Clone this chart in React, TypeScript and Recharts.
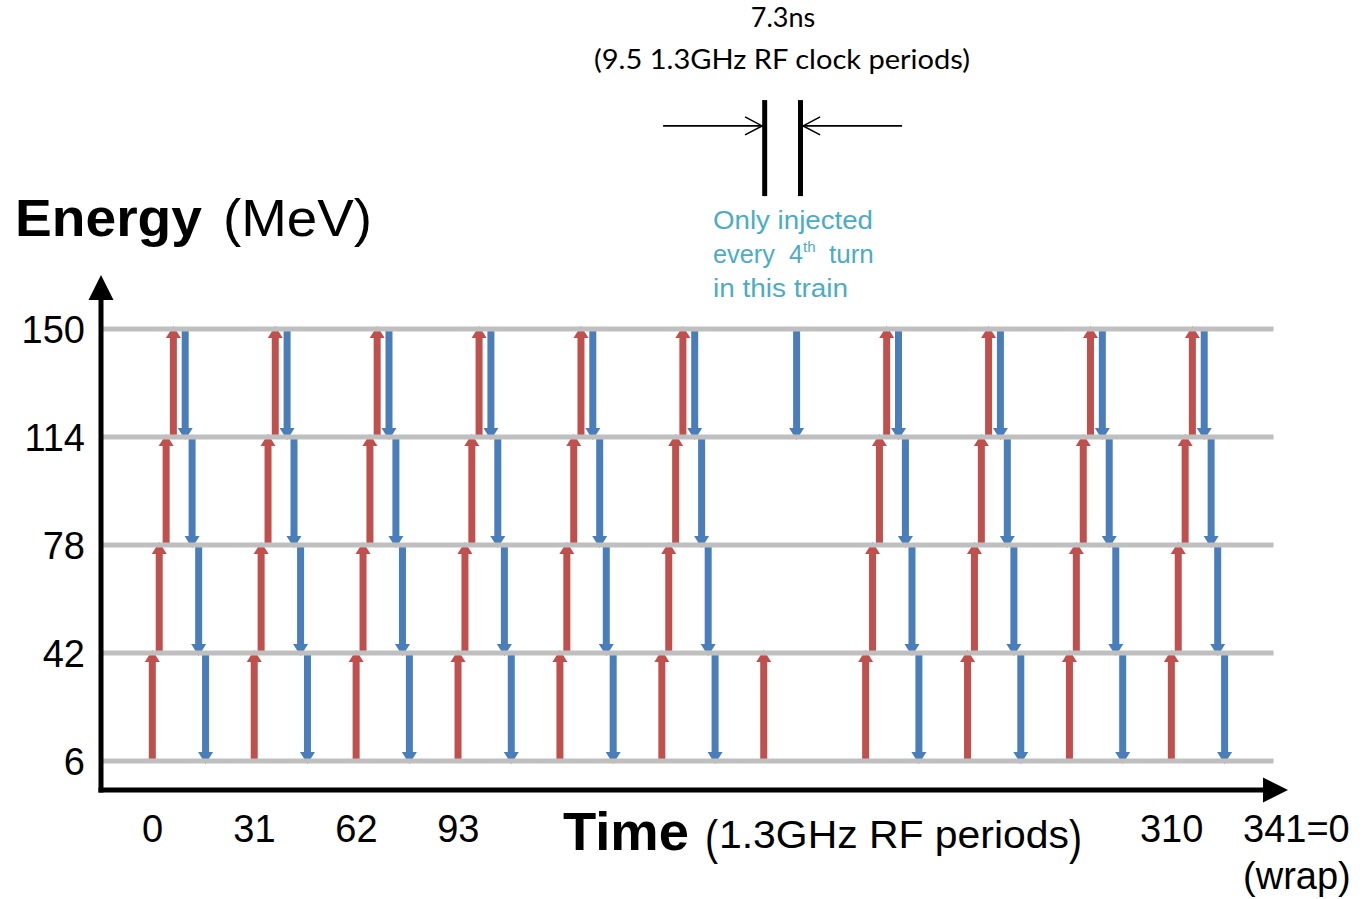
import React from "react";
import { ComposedChart, Bar, XAxis, YAxis, ReferenceLine } from "recharts";

const energyLevels = [6, 42, 78, 114, 150];
const timeTicks = [0, 31, 62, 93, 310, 341];

// accelerating passes (red, going up)
const riseTo42 = [0, 31, 62, 93, 124, 155, 186, 217, 248, 279, 310];
const riseTo78 = [2.1, 33.1, 64.1, 95.1, 126.1, 157.1, 219.1, 250.1, 281.1, 312.1];
const riseTo114 = [4.2, 35.2, 66.2, 97.2, 128.2, 159.2, 221.2, 252.2, 283.2, 314.2];
const riseTo150 = [6.4, 37.4, 68.4, 99.4, 130.4, 161.4, 223.4, 254.4, 285.4, 316.4];

// decelerating passes (blue, going down)
const fallTo114 = [10, 41, 72, 103, 134, 165, 196, 227, 258, 289, 320];
const fallTo78 = [12.1, 43.1, 74.1, 105.1, 136.1, 167.1, 229.1, 260.1, 291.1, 322.1];
const fallTo42 = [14.1, 45.1, 76.1, 107.1, 138.1, 169.1, 231.1, 262.1, 293.1, 324.1];
const fallTo6 = [16.2, 47.2, 78.2, 109.2, 140.2, 171.2, 233.2, 264.2, 295.2, 326.2];

// 7.3ns gap markers above the plot
const gapMarks = [186.2, 197.1];

const X_MIN = -15.7;
const X_MAX = 345.4;
const Y_MIN = -3.667;
const Y_MAX = 168;

const RED = "#c0504d";
const BLUE = "#4a7ebb";
const GRID = "#bfbfbf";
const CYAN = "#4bacc6";
const SANS = "'Liberation Sans', Arial, sans-serif";
const CALIBRI = "Lato, 'Liberation Sans', sans-serif";

const passes = [
  ...riseTo42.map((t) => ({ t, range: [6, 42], dir: "up" })),
  ...riseTo78.map((t) => ({ t, range: [42, 78], dir: "up" })),
  ...riseTo114.map((t) => ({ t, range: [78, 114], dir: "up" })),
  ...riseTo150.map((t) => ({ t, range: [114, 150], dir: "up" })),
  ...fallTo114.map((t) => ({ t, range: [114, 150], dir: "down" })),
  ...fallTo78.map((t) => ({ t, range: [78, 114], dir: "down" })),
  ...fallTo42.map((t) => ({ t, range: [42, 78], dir: "down" })),
  ...fallTo6.map((t) => ({ t, range: [6, 42], dir: "down" })),
].sort((a, b) => a.t - b.t);

const ArrowShape = (props: any) => {
  const { x, y, width, height, payload } = props;
  if (x == null || y == null) return null;
  const cx = x + width / 2;
  const sw = 3.5; // half shaft
  const hw = 7.5; // half head
  const hl = 12;
  const top = y;
  const bot = y + height;
  if (payload.dir === "up") {
    const tip = top - 3;
    const base = tip + hl;
    return (
      <path
        d={`M${cx - sw},${bot} L${cx - sw},${base} L${cx - hw},${base} L${cx},${tip} L${cx + hw},${base} L${cx + sw},${base} L${cx + sw},${bot} Z`}
        fill={RED}
      />
    );
  }
  const tip = bot + 3;
  const base = tip - hl;
  return (
    <path
      d={`M${cx - sw},${top} L${cx - sw},${base} L${cx - hw},${base} L${cx},${tip} L${cx + hw},${base} L${cx + sw},${base} L${cx + sw},${top} Z`}
      fill={BLUE}
    />
  );
};

// solid axis line with filled arrowhead
const AxisArrow = (props: any) => {
  const { x1, y1, x2, y2 } = props;
  const len = Math.hypot(x2 - x1, y2 - y1) || 1;
  const ux = (x2 - x1) / len;
  const uy = (y2 - y1) / len;
  const hl = 25;
  const hw = 12.5;
  const bx = x2 - ux * hl;
  const by = y2 - uy * hl;
  return (
    <g>
      <line x1={x1 - ux * 2.5} y1={y1 - uy * 2.5} x2={bx + ux * 2} y2={by + uy * 2} stroke="#000" strokeWidth={5} />
      <path d={`M${x2},${y2} L${bx - uy * hw},${by + ux * hw} L${bx + uy * hw},${by - ux * hw} Z`} fill="#000" />
    </g>
  );
};

// thin line with open arrowhead at the end
const OpenArrow = (props: any) => {
  const { x1, y1, x2, y2 } = props;
  const dir = x2 > x1 ? 1 : -1;
  return (
    <g stroke="#000" strokeWidth={1.6} fill="none">
      <line x1={x1} y1={y1} x2={x2} y2={y2} />
      <path d={`M${x2 - dir * 17},${y2 - 9} L${x2},${y2} L${x2 - dir * 17},${y2 + 9}`} />
    </g>
  );
};

const TimeTick = (props: any) => {
  const { x, y, payload } = props;
  if (payload.value === 341) {
    return (
      <g fontFamily={SANS} fontSize={38} fill="#000">
        <text x={x - 30.5} y={y + 52}>341=0</text>
        <text x={x - 30.5} y={y + 99}>(wrap)</text>
      </g>
    );
  }
  return (
    <text x={x} y={y + 52} textAnchor="middle" fontFamily={SANS} fontSize={38} fill="#000">
      {payload.value}
    </text>
  );
};

const EnergyTick = (props: any) => {
  const { x, y, payload } = props;
  return (
    <text x={x - 16} y={y + 14} textAnchor="end" fontFamily={SANS} fontSize={38} fill="#000">
      {payload.value}
    </text>
  );
};

export default function App() {
  return (
    <div style={{ position: "absolute", left: 0, top: 0, width: 1363, height: 899, background: "#fff" }}>
      <ComposedChart
        width={1363}
        height={899}
        data={passes}
        margin={{ top: 275, right: 75, bottom: 9, left: 0 }}
      >
        <XAxis
          type="number"
          dataKey="t"
          domain={[X_MIN, X_MAX]}
          allowDataOverflow
          ticks={timeTicks}
          interval={0}
          tick={<TimeTick />}
          tickSize={0}
          tickMargin={0}
          axisLine={false}
          tickLine={false}
          height={100}
        />
        <YAxis
          type="number"
          domain={[Y_MIN, Y_MAX]}
          allowDataOverflow
          ticks={energyLevels}
          interval={0}
          tick={<EnergyTick />}
          tickSize={0}
          tickMargin={0}
          axisLine={false}
          tickLine={false}
          width={101}
        />
        {energyLevels.map((e) => (
          <ReferenceLine
            key={`lvl-${e}`}
            segment={[
              { x: -15.1, y: e },
              { x: 341, y: e },
            ]}
            stroke={GRID}
            strokeWidth={5}
          />
        ))}
        <Bar dataKey="range" barSize={6} isAnimationActive={false} shape={ArrowShape} />
        <ReferenceLine
          segment={[
            { x: X_MIN, y: Y_MIN },
            { x: X_MIN, y: Y_MAX },
          ]}
          ifOverflow="visible"
          shape={AxisArrow}
        />
        <ReferenceLine
          segment={[
            { x: X_MIN, y: Y_MIN },
            { x: X_MAX, y: Y_MIN },
          ]}
          ifOverflow="visible"
          shape={AxisArrow}
        />
        {gapMarks.map((t) => (
          <ReferenceLine
            key={`gap-${t}`}
            segment={[
              { x: t, y: 194.3 },
              { x: t, y: 226.3 },
            ]}
            ifOverflow="visible"
            stroke="#000"
            strokeWidth={5}
          />
        ))}
        <ReferenceLine
          segment={[
            { x: 155.3, y: 217.7 },
            { x: 185.4, y: 217.7 },
          ]}
          ifOverflow="visible"
          shape={OpenArrow}
        />
        <ReferenceLine
          segment={[
            { x: 228, y: 217.7 },
            { x: 197.9, y: 217.7 },
          ]}
          ifOverflow="visible"
          shape={OpenArrow}
        />
      </ComposedChart>

      {/* titles and notes */}
      <svg
        width={1363}
        height={899}
        style={{ position: "absolute", left: 0, top: 0, pointerEvents: "none" }}
      >
        <text x={15} y={236} fontFamily={SANS} fontWeight="bold" fontSize={51} textLength={187} lengthAdjust="spacingAndGlyphs">
          Energy
        </text>
        <text x={223} y={236} fontFamily={SANS} fontSize={52} textLength={149} lengthAdjust="spacingAndGlyphs">
          (MeV)
        </text>

        <text x={563} y={850} fontFamily={SANS} fontWeight="bold" fontSize={53} textLength={126} lengthAdjust="spacingAndGlyphs">
          Time
        </text>
        <text x={705} y={854} fontFamily={SANS} fontSize={48} textLength={13} lengthAdjust="spacingAndGlyphs">
          (
        </text>
        <text x={719} y={848} fontFamily={SANS} fontSize={38} textLength={350} lengthAdjust="spacingAndGlyphs">
          1.3GHz RF periods
        </text>
        <text x={1069} y={854} fontFamily={SANS} fontSize={48} textLength={13} lengthAdjust="spacingAndGlyphs">
          )
        </text>

        <text x={783} y={27} textAnchor="middle" fontFamily={CALIBRI} fontSize={27}>
          7.3ns
        </text>
        <text x={594} y={69} fontFamily={CALIBRI} fontSize={27} textLength={376} lengthAdjust="spacingAndGlyphs">
          (9.5 1.3GHz RF clock periods)
        </text>

        <g fontFamily={SANS} fontSize={25} fill={CYAN}>
          <text x={713} y={229} textLength={160} lengthAdjust="spacingAndGlyphs">
            Only injected
          </text>
          <text x={713} y={263} textLength={62} lengthAdjust="spacingAndGlyphs">
            every
          </text>
          <text x={789} y={263}>4</text>
          <text x={803} y={252} fontSize={15}>
            th
          </text>
          <text x={829} y={263} fontSize={26}>
            turn
          </text>
          <text x={713} y={297} textLength={135} lengthAdjust="spacingAndGlyphs">
            in this train
          </text>
        </g>
      </svg>
    </div>
  );
}
